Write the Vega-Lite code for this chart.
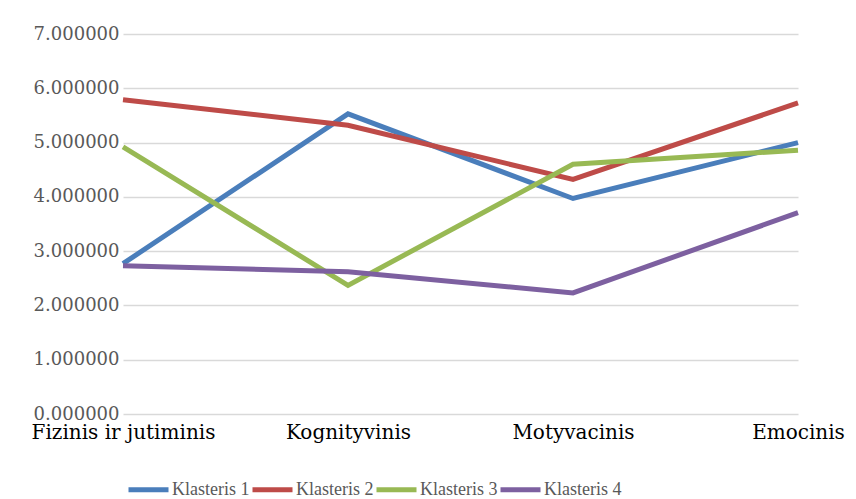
{
  "$schema": "https://vega.github.io/schema/vega-lite/v6.json",
  "autosize": "none",
  "width": 675,
  "height": 380,
  "padding": {"left": 123, "top": 34, "right": 58, "bottom": 85},
  "background": "white",
  "config": {"view": {"stroke": null}, "font": "Liberation Serif"},
  "data": {"values": [
    {"cat": "Fizinis ir jutiminis", "series": "Klasteris 1", "v": 2.77},
    {"cat": "Kognityvinis", "series": "Klasteris 1", "v": 5.53},
    {"cat": "Motyvacinis", "series": "Klasteris 1", "v": 3.97},
    {"cat": "Emocinis", "series": "Klasteris 1", "v": 5.00},
    {"cat": "Fizinis ir jutiminis", "series": "Klasteris 2", "v": 5.79},
    {"cat": "Kognityvinis", "series": "Klasteris 2", "v": 5.32},
    {"cat": "Motyvacinis", "series": "Klasteris 2", "v": 4.32},
    {"cat": "Emocinis", "series": "Klasteris 2", "v": 5.73},
    {"cat": "Fizinis ir jutiminis", "series": "Klasteris 3", "v": 4.92},
    {"cat": "Kognityvinis", "series": "Klasteris 3", "v": 2.37},
    {"cat": "Motyvacinis", "series": "Klasteris 3", "v": 4.60},
    {"cat": "Emocinis", "series": "Klasteris 3", "v": 4.86},
    {"cat": "Fizinis ir jutiminis", "series": "Klasteris 4", "v": 2.73},
    {"cat": "Kognityvinis", "series": "Klasteris 4", "v": 2.62},
    {"cat": "Motyvacinis", "series": "Klasteris 4", "v": 2.23},
    {"cat": "Emocinis", "series": "Klasteris 4", "v": 3.71}
  ]},
  "mark": {"type": "line", "strokeWidth": 5, "strokeCap": "butt", "strokeJoin": "miter"},
  "encoding": {
    "x": {
      "field": "cat", "type": "ordinal",
      "sort": ["Fizinis ir jutiminis", "Kognityvinis", "Motyvacinis", "Emocinis"],
      "scale": {"type": "point", "padding": 0},
      "axis": {"title": null, "labelAngle": 0, "domain": false, "ticks": false, "grid": false,
               "labelFontSize": 20, "labelColor": "#000000", "labelPadding": 8, "labelFont": "DejaVu Serif",
               "labelOverlap": false, "labelLimit": 400}
    },
    "y": {
      "field": "v", "type": "quantitative",
      "scale": {"domain": [0, 7], "nice": false},
      "axis": {"title": null, "values": [0, 1, 2, 3, 4, 5, 6, 7], "format": ".6f", "domain": false, "ticks": false,
               "gridColor": "#d9d9d9", "gridWidth": 1.5, "labelFontSize": 18, "labelColor": "#595959",
               "labelPadding": 4, "labelFont": "DejaVu Serif", "labelOverlap": false}
    },
    "color": {
      "field": "series", "type": "nominal",
      "scale": {"domain": ["Klasteris 1", "Klasteris 2", "Klasteris 3", "Klasteris 4"],
                "range": ["#4a7ebb", "#be4b48", "#98b954", "#7d60a0"]},
      "legend": {"title": null, "orient": "none", "direction": "horizontal", "legendX": 3, "legendY": 433,
                 "symbolType": "M-1,0L1,0", "symbolSize": 1600, "symbolStrokeWidth": 5,
                 "columnPadding": -12, "labelOffset": 1, "labelFontSize": 18, "labelColor": "#595959",
                 "labelFont": "Liberation Serif"}
    }
  }
}
